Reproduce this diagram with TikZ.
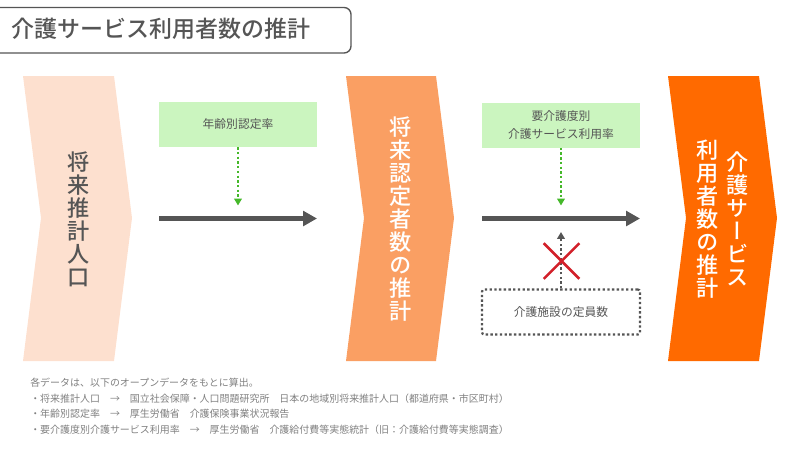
\documentclass[tikz,border=0pt]{standalone}
\usepackage{fontspec}
\setmainfont{Noto Sans CJK JP}
\newfontfamily\cjkm{Noto Sans CJK JP Medium}
\newfontfamily\cjkv[RawFeature=+vert]{Noto Sans CJK JP Medium}
\usepackage{tikz}
\usetikzlibrary{arrows.meta,shapes.misc}
\definecolor{peach}{HTML}{FDE0CF}
\definecolor{midorange}{HTML}{FA9F63}
\definecolor{deeporange}{HTML}{FF6A00}
\definecolor{palegreen}{HTML}{CBF5BF}
\definecolor{dotgreen}{HTML}{45B82A}
\definecolor{inkgray}{HTML}{555555}
\definecolor{crossred}{HTML}{D2202A}
\tikzset{%
  tipA/.tip={Triangle[length=10pt,width=10.5pt]},
  tipB/.tip={Triangle[length=5pt,width=5.5pt]},
  ratebox/.style={fill=palegreen, minimum width=114pt, minimum height=32.5pt, inner sep=0pt, align=center, text=inkgray, font=\fontsize{8.5}{13.2}\selectfont},
  stacktext/.style={align=center, inner sep=0pt, font=\cjkv\fontsize{16}{16.6}\selectfont},
  mainarrow/.style={draw=inkgray, line width=3.6pt, -tipA},
  dotarrow/.style={line width=1.9pt, dash pattern=on 1.7pt off 1.7pt, -tipB},
}
\begin{document}
\begin{tikzpicture}[x=0.01in,y=-0.01in]
\clip (0,0) rectangle (800,450);
\draw[color=inkgray, line width=1pt, rounded corners=5pt] (-8,7.5) rectangle (351,53);
\node[anchor=west, inner sep=0pt, text=inkgray, font=\cjkm\fontsize{16.6}{18}\selectfont] (title) at (11,29) {介護サービス利用者数の推計};
\fill[peach] (23,76) -- (114,76) -- (132,218) -- (114,361) -- (23,361) -- (41,218) -- cycle;
\fill[midorange] (346,76) -- (436,76) -- (454,218) -- (436,361) -- (346,361) -- (364,218) -- cycle;
\fill[deeporange] (668,76) -- (759,76) -- (777,218) -- (759,361) -- (668,361) -- (686,218) -- cycle;
\node[stacktext, text=inkgray] (population) at (79,219) {将\\来\\推\\計\\人\\口};
\node[stacktext, text=white] (certified) at (401,219) {将\\来\\認\\定\\者\\数\\の\\推\\計};
\node[stacktext, text=white] (usersA) at (738,219) {介\\護\\サ\\ー\\ビ\\ス};
\node[stacktext, text=white] (usersB) at (708,219) {利\\用\\者\\数\\の\\推\\計};
\node[ratebox] (agerate) at (238,124.5) {年齢別認定率};
\node[ratebox] (carerate) at (561,125) {要介護度別\\介護サービス利用率};
\node[ratebox, fill=none, draw=inkgray, line width=1.6pt, dash pattern=on 1.7pt off 1.7pt, rounded corners=1.5pt] (capacity) at (561,312) {介護施設の定員数};
\coordinate (leftA) at (159,218.5);
\coordinate (rightA) at (317,218.5);
\coordinate (leftB) at (482,218.5);
\coordinate (rightB) at (640,218.5);
\coordinate (ageend) at (238,205.5);
\coordinate (careend) at (561,205.5);
\coordinate (capend) at (561,232);
\draw[mainarrow] (leftA) -- (rightA);
\draw[mainarrow] (leftB) -- (rightB);
\draw[dotarrow, color=dotgreen] (agerate) -- (ageend);
\draw[dotarrow, color=dotgreen] (carerate) -- (careend);
\draw[dotarrow, color=inkgray] (capacity) -- (capend);
\node[cross out, draw=crossred, line width=1.8pt, minimum size=24pt, inner sep=0pt] (stopmark) at (561.5,261) {};
\node[anchor=north west, inner sep=0pt, align=left, text=gray, font=\fontsize{7.2}{11.2}\selectfont] (sources) at (30,378) {各データは、以下のオープンデータをもとに算出。\\
・将来推計人口　→　国立社会保障・人口問題研究所　日本の地域別将来推計人口（都道府県・市区町村）\\
・年齢別認定率　→　厚生労働省　介護保険事業状況報告\\
・要介護度別介護サービス利用率　→　厚生労働省　介護給付費等実態統計（旧：介護給付費等実態調査）};
\end{tikzpicture}
\end{document}
